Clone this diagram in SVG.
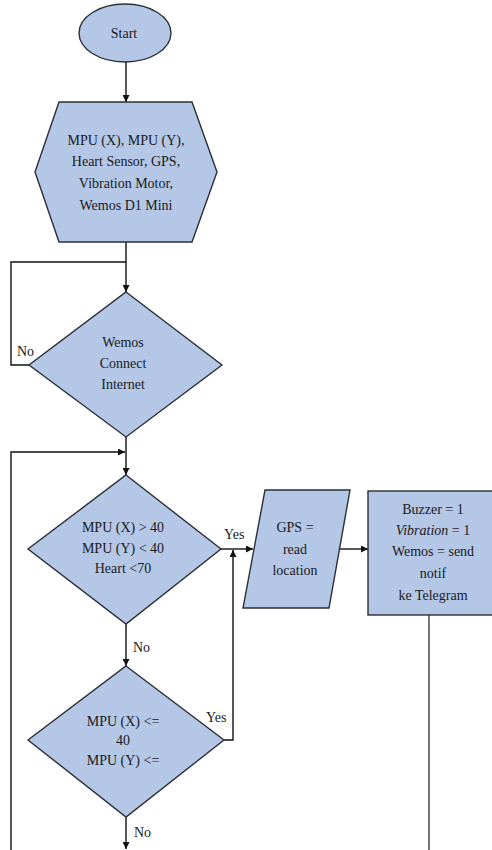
<svg xmlns="http://www.w3.org/2000/svg" width="492" height="850" viewBox="0 0 492 850" font-family="Liberation Serif, DejaVu Serif, serif">
<style>
.shape{fill:#b4c7e7;stroke:#2b2f36;stroke-width:1.4}
.ln{fill:none;stroke:#111;stroke-width:1.4}
.gl{fill:none;stroke:#555;stroke-width:1.6}
.t{font-family:'Liberation Serif','DejaVu Serif',serif;font-size:14px;fill:#1a1a1a;text-anchor:middle}
.lbl{font-family:'Liberation Serif','DejaVu Serif',serif;font-size:14px;fill:#1a1a1a;text-anchor:start}
</style>
<defs>
<marker id="ah" viewBox="0 0 10 10" refX="10" refY="5" markerWidth="7" markerHeight="7" markerUnits="userSpaceOnUse" orient="auto">
<path d="M0,0 L10,5 L0,10 z" fill="#111"/>
</marker>
</defs>
<rect width="492" height="850" fill="#fff"/>
<g id="connectors">
<path class="ln" d="M126,62 V102" marker-end="url(#ah)"/>
<path class="ln" d="M126,242 V292" marker-end="url(#ah)"/>
<path class="ln" d="M29,365 H11 V262 H126"/>
<path class="ln" d="M126,437 V475" marker-end="url(#ah)"/>
<path class="ln" d="M11,850 V452 H125" marker-end="url(#ah)"/>
<path class="ln" d="M221,549 H253" marker-end="url(#ah)"/>
<path class="ln" d="M224,740 H233 V550" marker-end="url(#ah)"/>
<path class="ln" d="M339,549 H368" marker-end="url(#ah)"/>
<path class="ln" d="M126,624 V666" marker-end="url(#ah)"/>
<path class="ln" d="M126,817 V849" marker-end="url(#ah)"/>
<path class="gl" d="M429,615 V850"/>
<text class="lbl" x="17" y="356">No</text>
<text class="lbl" x="224" y="539">Yes</text>
<text class="lbl" x="206" y="722">Yes</text>
<text class="lbl" x="133" y="652">No</text>
<text class="lbl" x="134" y="837">No</text>
</g>
<g id="start">
<ellipse class="shape" cx="125" cy="33" rx="46" ry="29"/>
<text class="t" x="124" y="38">Start</text>
</g>
<g id="init">
<polygon class="shape" points="59,102 192,102 217,172 192,242 59,242 35,172"/>
<text class="t" x="126" y="145">MPU (X), MPU (Y),</text>
<text class="t" x="126" y="166">Heart Sensor, GPS,</text>
<text class="t" x="126" y="188">Vibration Motor,</text>
<text class="t" x="126" y="210">Wemos D1 Mini</text>
</g>
<g id="connect">
<polygon class="shape" points="126,292 222,365 126,437 29,365"/>
<text class="t" x="123" y="347">Wemos</text>
<text class="t" x="123" y="368">Connect</text>
<text class="t" x="123" y="389">Internet</text>
</g>
<g id="cond1">
<polygon class="shape" points="126,475 221,549 126,624 28,549"/>
<text class="t" x="123" y="532">MPU (X) &gt; 40</text>
<text class="t" x="123" y="553">MPU (Y) &lt; 40</text>
<text class="t" x="123" y="573">Heart &lt;70</text>
</g>
<g id="cond2">
<polygon class="shape" points="126,666 224,740 126,817 28,740"/>
<text class="t" x="123" y="726">MPU (X) &lt;=</text>
<text class="t" x="123" y="745">40</text>
<text class="t" x="123" y="765">MPU (Y) &lt;=</text>
</g>
<g id="gps">
<polygon class="shape" points="265,490 350,490 329,608 243,608"/>
<text class="t" x="295" y="532">GPS =</text>
<text class="t" x="295" y="554">read</text>
<text class="t" x="295" y="575">location</text>
</g>
<g id="action">
<rect class="shape" x="368" y="491" width="130" height="124"/>
<text class="t" x="433" y="514">Buzzer = 1</text>
<text class="t" x="433" y="535"><tspan font-style="italic">Vibration</tspan> = 1</text>
<text class="t" x="433" y="556">Wemos = send</text>
<text class="t" x="433" y="578">notif</text>
<text class="t" x="433" y="600">ke Telegram</text>
</g>
</svg>
